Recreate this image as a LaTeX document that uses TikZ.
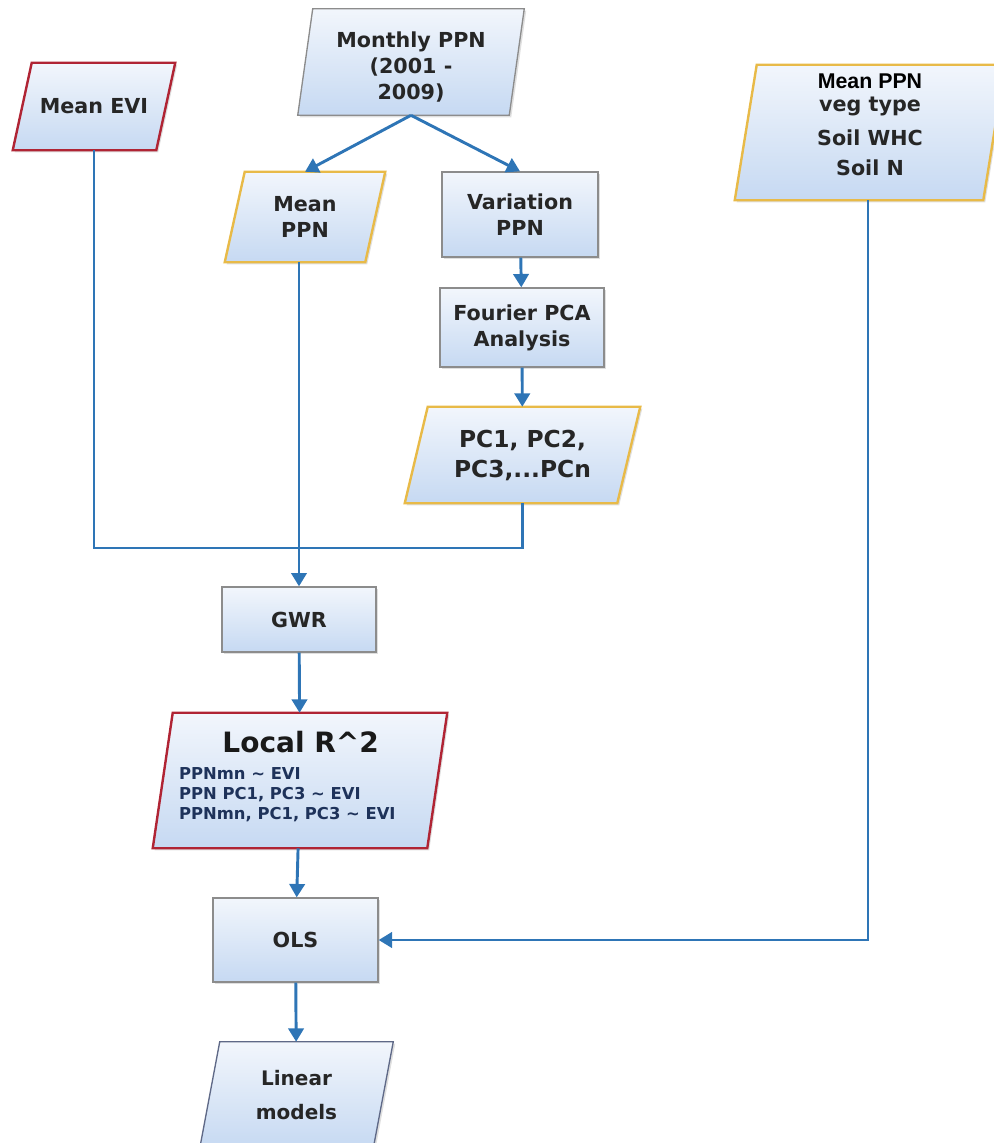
\documentclass[tikz,border=0pt]{standalone}
\usepackage{fontspec}
\newfontfamily\boxfont{DejaVu Sans}
\newfontfamily\arialfont{Liberation Sans}
\usetikzlibrary{arrows.meta}
\usetikzlibrary{shadows}
\usetikzlibrary{backgrounds}

\definecolor{flowblue}{RGB}{46,117,182}
\definecolor{filltop}{RGB}{242,246,252}
\definecolor{fillbot}{RGB}{198,217,242}
\definecolor{boxgray}{RGB}{140,140,140}
\definecolor{evired}{RGB}{176,36,52}
\definecolor{ppngold}{RGB}{232,186,72}
\definecolor{textgray}{RGB}{38,38,38}
\definecolor{navytext}{RGB}{30,50,90}
\definecolor{slategray}{RGB}{95,105,135}

% parallelogram round a node: node, slant, style
\newcommand{\paraframe}[3]{%
  \draw[paint, #3] ([xshift=#2]#1.north west) -- (#1.north east)
    -- ([xshift=-#2]#1.south east) -- (#1.south west) -- cycle;}

\begin{document}
\begin{tikzpicture}[x=0.75pt,y=0.75pt,yscale=-1,xscale=1,
  paint/.style={draw=boxgray, line width=1pt, top color=filltop, bottom color=fillbot,
    drop shadow={opacity=0.25, shadow xshift=1.5pt, shadow yshift=-1.5pt}},
  label/.style={rectangle, inner sep=1pt, align=center, text=textgray,
    font=\boxfont\bfseries\fontsize{15.5}{19.5}\selectfont},
  rectbox/.style={label, paint},
  redframe/.style={draw=evired, line width=1.8pt},
  goldframe/.style={draw=ppngold, line width=1.8pt},
  flowline/.style={draw=flowblue, line width=2.2pt},
  flowarrow/.style={flowline, -{Triangle[width=11.5pt,length=10pt]}}
]
\useasboundingbox (0,0) rectangle (994,1143);

% Text Nodes of the parallelograms
\node[label, minimum width=121.5pt, minimum height=65.25pt] (evi) at (94,106.5) {Mean EVI};
\node[label, minimum width=169.5pt, minimum height=79.5pt] (monthly) at (411,62)
  {\raisebox{-5pt}[\height][\depth]{\begin{tabular}{@{}c@{}}Monthly PPN\\(2001 -\\2009)\end{tabular}}};
\node[label, minimum width=120pt, minimum height=67.5pt] (meanppn) at (305,217) {Mean\\PPN};
\node[label, minimum width=176.25pt, minimum height=72pt,
  font=\boxfont\bfseries\fontsize{17.5}{22.5}\selectfont] (pcs) at (522.5,455) {PC1, PC2,\\PC3,...PCn};
\node[label, minimum width=202.5pt, minimum height=101.25pt] (vegppn) at (870,132.5)
  {\raisebox{4.5pt}[\height][\depth]{\begin{tabular}{@{}c@{}}{\arialfont\bfseries\fontsize{16}{17}\selectfont\color{black}Mean PPN}\\[-2.5pt]veg type\\[6pt]Soil WHC\\[3pt]Soil N\end{tabular}}};
\node[label, minimum width=220.5pt, minimum height=101.25pt,
  font=\boxfont\bfseries\fontsize{12.3}{15}\selectfont] (localr) at (300,780.5)
  {\raisebox{1.5pt}[\height][\depth]{\hspace*{-19pt}\begin{tabular}{@{}l@{}}
   \multicolumn{1}{@{}c@{}}{\hspace*{20pt}\fontsize{21}{24}\selectfont\color{black!90}Local R\textasciicircum 2}\\[5pt]
   \color{navytext}PPNmn \textasciitilde{} EVI\\
   \color{navytext}PPN PC1, PC3 \textasciitilde{} EVI\\
   \color{navytext}PPNmn, PC1, PC3 \textasciitilde{} EVI\end{tabular}}};
\node[label, minimum width=144.75pt, minimum height=79.5pt,
  font=\boxfont\bfseries\fontsize{15}{26}\selectfont] (linear) at (296.5,1095) {Linear\\models};

%Shape: Rectangles
\node[rectbox, minimum width=117pt, minimum height=63.75pt] (variation) at (520,214.5) {Variation\\PPN};
\node[rectbox, minimum width=123pt, minimum height=59.25pt] (fourier) at (522,327.5) {Fourier PCA\\Analysis};
\node[rectbox, minimum width=115.5pt, minimum height=48.75pt] (gwr) at (299,619.5) {GWR};
\node[rectbox, minimum width=123.75pt, minimum height=63pt] (ols) at (295.5,940) {OLS};

%Shape: Parallelograms
\begin{scope}[on background layer]
\paraframe{evi}{14.25pt}{redframe}
\paraframe{monthly}{11.25pt}{}
\paraframe{meanppn}{15pt}{goldframe}
\paraframe{pcs}{17.25pt}{goldframe}
\paraframe{vegppn}{16.5pt}{goldframe}
\paraframe{localr}{15pt}{redframe}
\paraframe{linear}{15pt}{draw=slategray}
\end{scope}

% Connectors
\coordinate (merge) at (300,548);
\draw[flowline] (evi.south) |- (merge);
\draw[flowline] (pcs.south) |- (merge);
\draw[flowarrow] (meanppn.south -| gwr.north) -- (gwr.north);
\draw[flowarrow] (monthly.south) -- (meanppn.north);
\draw[flowarrow] (monthly.south) -- (variation.north);
\draw[flowarrow] (variation) -- (fourier);
\draw[flowarrow] (fourier) -- (pcs);
\draw[flowarrow] (gwr) -- (localr);
\draw[flowarrow] (localr) -- (ols);
\draw[flowarrow] (ols) -- (linear);
\draw[flowarrow] (vegppn.south -| 868,0) |- (ols.east);

\end{tikzpicture}
\end{document}
